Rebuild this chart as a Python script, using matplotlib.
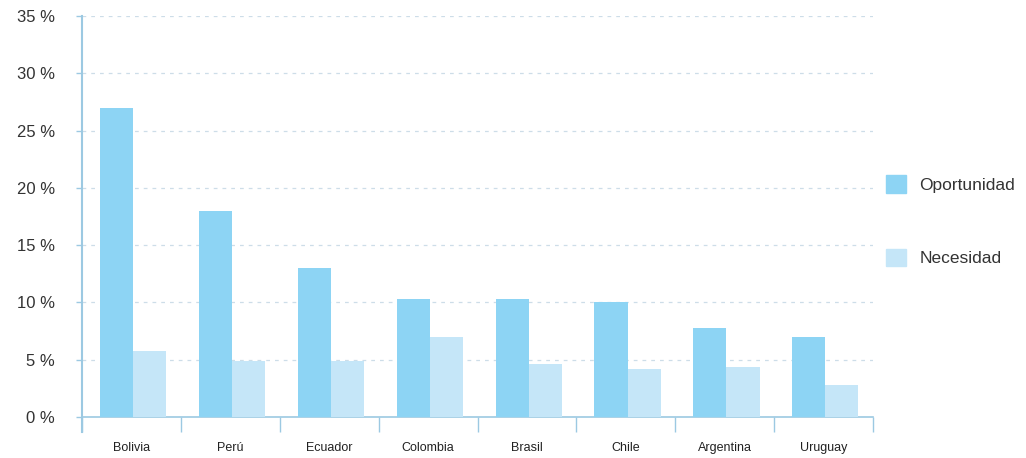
import numpy as np
import matplotlib.pyplot as plt
from matplotlib.patches import Patch

plt.rcParams['font.family'] = ['Liberation Sans', 'DejaVu Sans']

# Emprendimiento por oportunidad y por necesidad (% de la población)
paises = ["Bolivia", "Perú", "Ecuador", "Colombia", "Brasil", "Chile", "Argentina", "Uruguay"]
oportunidad = [27.0, 18.0, 13.0, 10.3, 10.3, 10.0, 7.8, 7.0]
necesidad = [5.8, 4.9, 4.9, 7.0, 4.6, 4.2, 4.4, 2.8]
yticks = [0, 5, 10, 15, 20, 25, 30, 35]

c_op = "#8dd4f4"
c_nec = "#c5e6f8"
c_axis = "#9cc9e2"

fig = plt.figure(figsize=(10.26, 4.58), dpi=100)
ax = fig.add_axes([82 / 1026, 41 / 458, 791 / 1026, 401 / 458])

x = np.arange(len(paises))
w = 0.335
ax.bar(x - 0.15, oportunidad, w, color=c_op, zorder=3)
ax.bar(x + 0.185, necesidad, w, color=c_nec, zorder=3)

ax.set_xlim(-0.5, len(paises) - 0.5)
ax.set_ylim(0, 35)
ax.set_yticks(yticks)
ax.set_yticklabels([f"{v} %" for v in yticks], fontsize=12, color="#333333")
ax.yaxis.grid(True, color="#cddde8", linestyle=(0, (3, 4)), linewidth=0.9, zorder=0)

# category separators as ticks under the axis
ax.set_xticks(np.arange(len(paises) + 1) - 0.5)
ax.set_xticklabels([])
ax.set_xticks(x, minor=True)
ax.set_xticklabels(paises, minor=True, fontsize=9, color="#222222")
ax.tick_params(axis="x", which="major", length=11, width=1, color=c_axis, direction="out")
ax.tick_params(axis="x", which="minor", length=0, pad=18)
ax.tick_params(axis="y", length=4.5, width=1, color=c_axis, pad=15)

for s in ["top", "right"]:
    ax.spines[s].set_visible(False)
ax.spines["left"].set_color(c_axis)
ax.spines["left"].set_linewidth(1.5)
ax.spines["left"].set_bounds(-1.3, 35)
ax.spines["bottom"].set_color(c_axis)
ax.spines["bottom"].set_linewidth(1.2)

handles = [Patch(color=c_op, label="Oportunidad"), Patch(color=c_nec, label="Necesidad")]
fig.legend(handles=handles, loc="upper left", bbox_to_anchor=(0.848, 0.651),
           frameon=False, fontsize=12.5, handlelength=1.15, handleheight=1.15,
           labelspacing=3.2, handletextpad=0.8, labelcolor="#333333")

fig.savefig("out.png", dpi=100, facecolor="white")
